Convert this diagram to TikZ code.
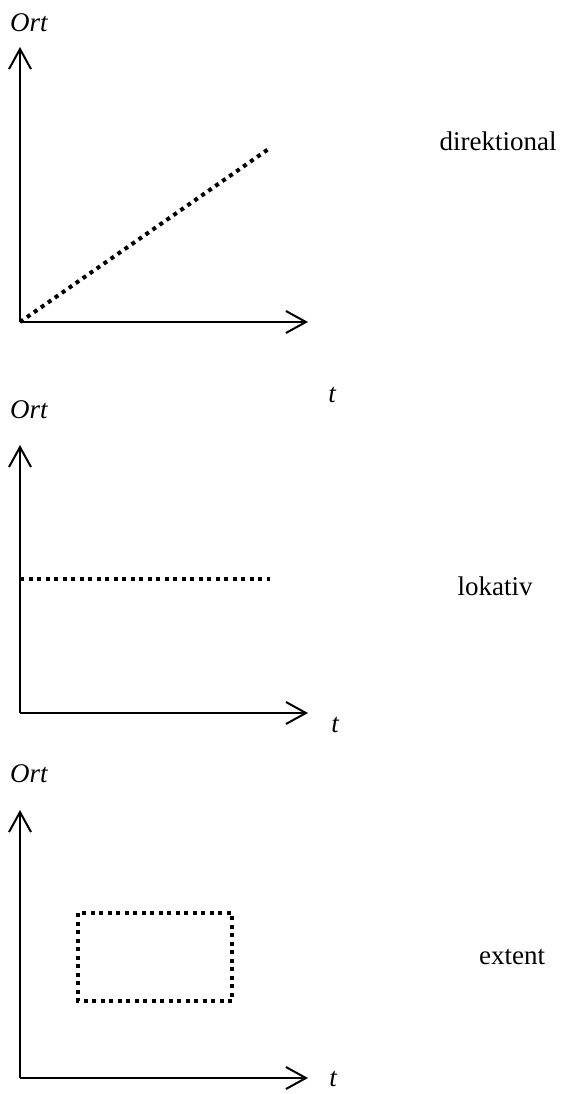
\documentclass[tikz,border=0pt]{standalone}
\usepackage{fontspec}
\setmainfont{Liberation Serif}
\usetikzlibrary{arrows.meta}

\begin{document}
\begin{tikzpicture}[x=1pt, y=-1pt, line width=2pt,
  axis/.style={-{Straight Barb[length=20pt,width=22pt]}},
  dotline/.style={line width=4pt, dash pattern=on 4pt off 4.5pt},
  lbl/.style={anchor=center, inner sep=0pt, font=\fontsize{27}{32}\selectfont},
  axlbl/.style={anchor=center, inner sep=0pt, font=\fontsize{27}{32}\selectfont\itshape}]

  %% panel 1: direktional
  \coordinate (o1) at (20,322);
  \coordinate (y1) at (20,47);
  \coordinate (x1) at (308,322);
  \coordinate (e1) at (270,148);
  \draw[axis] (o1) -- (y1);
  \draw[axis] (o1) -- (x1);
  \draw[dotline] (o1) -- (e1);
  \node[axlbl] (ort1) at (29,23) {Ort};
  \node[axlbl] (t1) at (332,395) {t};
  \node[lbl] (dir) at (498,141) {direktional};

  %% panel 2: lokativ
  \coordinate (o2) at (20,713);
  \coordinate (y2) at (20,445);
  \coordinate (x2) at (308,713);
  \coordinate (s2) at (20,579);
  \coordinate (e2) at (270,579);
  \draw[axis] (o2) -- (y2);
  \draw[axis] (o2) -- (x2);
  \draw[dotline] (s2) -- (e2);
  \node[axlbl] (ort2) at (29,410) {Ort};
  \node[axlbl] (t2) at (335,725) {t};
  \node[lbl] (lok) at (495,586) {lokativ};

  %% panel 3: extent
  \coordinate (o3) at (20,1078);
  \coordinate (y3) at (20,810);
  \coordinate (x3) at (308,1078);
  \draw[axis] (o3) -- (y3);
  \draw[axis] (o3) -- (x3);
  \draw[dotline] (78,913) rectangle (232,1001);
  \node[axlbl] (ort3) at (29,774) {Ort};
  \node[axlbl] (t3) at (333,1079) {t};
  \node[lbl] (ext) at (512,957) {extent};

  % canvas
  \pgfresetboundingbox
  \path[use as bounding box] (0,0) rectangle (566,1094);
\end{tikzpicture}
\end{document}
